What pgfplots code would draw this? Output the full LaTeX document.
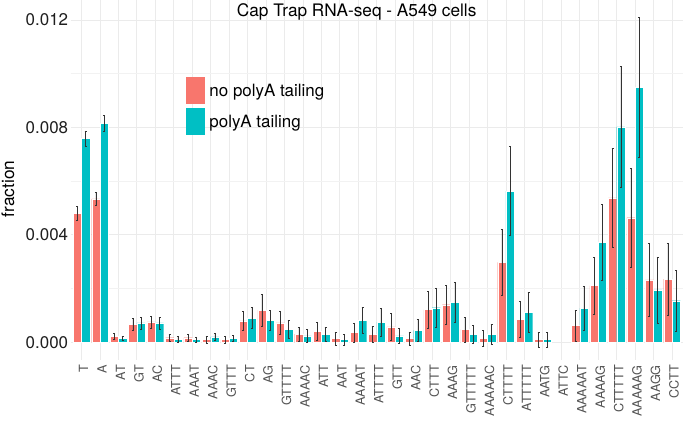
\documentclass[border=0pt]{standalone}
\usepackage{fontspec}
\setmainfont{TeX Gyre Heros}
\usepackage{pgfplots}
\usepackage{pgfplotstable}
\pgfplotsset{compat=1.18}
\definecolor{redc}{HTML}{F8766D}
\definecolor{tealc}{HTML}{00BFC4}
\definecolor{gridc}{HTML}{EBEBEB}
\definecolor{gridm}{HTML}{F2F2F2}

\pgfplotstableread{
idx r re t te
0 0.00480 0.00025 0.00759 0.00028
1 0.00534 0.00024 0.00815 0.00031
2 0.00022 0.00010 0.00014 0.00008
3 0.00067 0.00022 0.00072 0.00022
4 0.00076 0.00022 0.00072 0.00022
5 0.00017 0.00012 0.00011 0.00010
6 0.00017 0.00012 0.00010 0.00010
7 0.00010 0.00012 0.00020 0.00012
8 0.00010 0.00012 0.00015 0.00012
9 0.00080 0.00036 0.00090 0.00039
10 0.00120 0.00059 0.00081 0.00037
11 0.00072 0.00042 0.00048 0.00034
12 0.00030 0.00025 0.00024 0.00023
13 0.00042 0.00034 0.00030 0.00026
14 0.00014 0.00024 0.00010 0.00020
15 0.00037 0.00035 0.00082 0.00048
16 0.00030 0.00029 0.00075 0.00051
17 0.00057 0.00050 0.00024 0.00029
18 0.00014 0.00025 0.00044 0.00040
19 0.00122 0.00068 0.00129 0.00074
20 0.00140 0.00071 0.00149 0.00076
21 0.00048 0.00046 0.00030 0.00035
22 0.00016 0.00029 0.00030 0.00036
23 0.00298 0.00122 0.00563 0.00166
24 0.00086 0.00066 0.00112 0.00074
25 0.00010 0.00028 0.00010 0.00028
26 nan nan nan nan
27 0.00062 0.00058 0.00127 0.00083
28 0.00211 0.00105 0.00373 0.00141
29 0.00538 0.00185 0.00802 0.00225
30 0.00464 0.00183 0.00949 0.00260
31 0.00232 0.00135 0.00195 0.00123
32 0.00235 0.00135 0.00155 0.00112
}\data

\begin{document}
\begin{tikzpicture}
\path[use as bounding box] (0,0) rectangle (685bp,423bp);
\begin{axis}[
  at={(70.5bp,63bp)}, anchor=south west,
  scale only axis, width=612.6bp, height=360bp,
  xmin=-0.6, xmax=32.6, ymin=-0.000659, ymax=0.012745,
  axis line style={draw=none}, tick style={draw=none},
  xtick={0,...,32},
  xticklabels={T,A,AT,GT,AC,ATTT,AAAT,AAAC,GTTT,CT,AG,GTTTT,AAAAC,ATT,AAT,AAAAT,ATTTT,GTT,AAC,CTTT,AAAG,GTTTTT,AAAAAC,CTTTT,ATTTTT,AATG,ATTC,AAAAAT,AAAAG,CTTTTT,AAAAAG,AAGG,CCTT},
  ytick={0,0.004,0.008,0.012}, minor ytick={0.002,0.006,0.010},
  xmajorgrids, ymajorgrids, yminorgrids,
  major grid style={gridc, line width=0.9bp},
  minor grid style={gridm, line width=0.5bp},
  scaled y ticks=false,
  /pgf/number format/assume math mode=true,
  yticklabel style={/pgf/number format/fixed, /pgf/number format/fixed zerofill, /pgf/number format/precision=3, font=\fontsize{17}{17}\selectfont, text=black!88, anchor=east, inner xsep=2.2bp},
  xticklabel style={font=\fontsize{12.7}{12.7}\selectfont, text=black!68, xshift=2bp, rotate=90, anchor=east, inner xsep=5bp, inner ysep=0pt},
  legend style={at={(0.1885,0.787)}, anchor=north west, draw=none, fill=none, inner sep=0pt, font=\fontsize{17}{17}\selectfont, row sep=4.6bp, nodes={inner xsep=5bp, inner ysep=0pt}},
  legend cell align=left,
]
\addplot[ybar, bar width=0.45, bar shift=0pt, fill=redc, draw=white, line width=0.3bp,
  legend image code/.code={\fill[redc] (0bp,-12bp) rectangle (18bp,14bp);},
  error bars/.cd, y dir=both, y explicit,
  error bar style={line width=0.5bp, black!80},
  error mark options={rotate=90, mark size=1bp, line width=0.5bp, black!80}]
  table[x expr=\thisrow{idx}-0.225, y=r, y error=re]{\data};
\addlegendentry{no polyA tailing}
\addplot[ybar, bar width=0.45, bar shift=0pt, fill=tealc, draw=white, line width=0.3bp,
  legend image code/.code={\fill[tealc] (0bp,-12bp) rectangle (18bp,14bp);},
  error bars/.cd, y dir=both, y explicit,
  error bar style={line width=0.5bp, black!80},
  error mark options={rotate=90, mark size=1bp, line width=0.5bp, black!80}]
  table[x expr=\thisrow{idx}+0.225, y=t, y error=te]{\data};
\addlegendentry{polyA tailing}
\end{axis}
\node[anchor=base, font=\fontsize{17.3}{17.3}\selectfont] at (356.7bp,406.3bp) {Cap Trap RNA-seq - A549 cells};
\node[rotate=90, anchor=base, font=\fontsize{17.3}{17.3}\selectfont] at (14bp,234bp) {fraction};
\end{tikzpicture}
\end{document}
